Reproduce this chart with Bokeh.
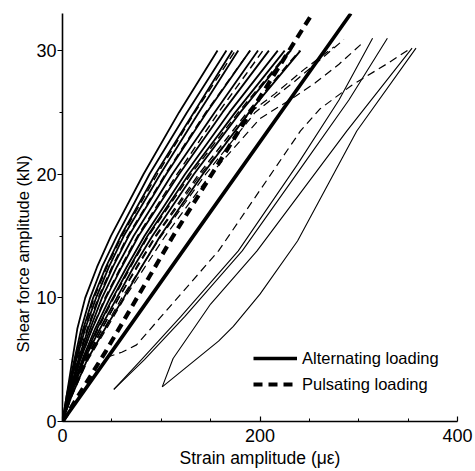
from bokeh.plotting import figure
from bokeh.models import FixedTicker, Legend, LegendItem, Range1d, Title
from bokeh.embed import file_html
from bokeh.resources import INLINE

# ---------------- data ----------------
Y_LEV = [0, 2, 5, 7.5, 10, 12.5, 15, 20, 25, 30]

# alternating loading, main bundle (strain at the Y_LEV force levels)
alt_b1 = [0, 4, 10, 15, 23, 35, 49, 82, 118, 157]
alt_b2 = [0, 4, 12, 19, 28, 40, 55, 88, 126, 166]
alt_b3 = [0, 5, 13, 21, 31, 44, 59, 94, 133, 172]
alt_b4 = [0, 5, 14, 23, 34, 47, 62, 99, 138, 178]
alt_b5 = [0, 6, 16, 26, 37, 51, 67, 105, 146, 190]
alt_b6 = [0, 6, 17, 28, 40, 55, 72, 111, 154, 198]
alt_b7 = [0, 7, 18, 30, 44, 60, 77, 118, 162, 209]
alt_b8 = [0, 7, 20, 33, 48, 65, 83, 124, 169, 218]
alt_b9 = [0, 7, 21, 35, 51, 68, 86, 128, 175, 225]
alt_b10 = [0, 8, 22, 38, 55, 72, 91, 133, 180, 231]
alt_b11 = [0, 9, 25, 43, 62, 80, 99, 142, 189, 241]

# alternating loading, specimens on the right
alt_r1_x = [52, 80, 120, 178, 238, 280, 314]
alt_r1_y = [2.6, 5.0, 8.5, 13.8, 20.8, 26.0, 31.0]
alt_r2_x = [52, 83, 124, 182, 244, 290, 329]
alt_r2_y = [2.6, 5.0, 8.5, 13.8, 20.8, 26.0, 31.0]
alt_r3_x = [101, 112, 150, 197, 288, 354]
alt_r3_y = [2.8, 5.1, 9.5, 13.8, 23.5, 30.2]
alt_r4_x = [101, 158, 173, 200, 238, 298, 358]
alt_r4_y = [2.8, 6.5, 7.7, 10.3, 14.6, 23.5, 30.2]

# pulsating loading, main bundle
pul_b1 = [0, 5, 13, 22, 32, 45, 60, 96, 134, 175]
pul_b2 = [0, 6, 15, 25, 36, 50, 66, 104, 145, 190]
pul_b3 = [0, 7, 18, 30, 43, 59, 76, 116, 158, 203]
pul_b4 = [0, 8, 22, 36, 52, 69, 87, 130, 178, 230]
pul_b5 = [0, 9, 24, 40, 57, 75, 94, 138, 187, 240]

# pulsating loading, flattening specimens
pul_f1_x = [0, 8, 23, 57, 95, 140, 190, 215, 245, 275]
pul_f1_y = [0, 2, 5, 10, 15, 20, 25, 26.5, 28.5, 30.3]
pul_f2_x = [0, 8, 24, 60, 100, 145, 195, 235, 260, 285]
pul_f2_y = [0, 2, 5, 10, 15, 20, 25, 27.5, 29.2, 30.9]
pul_f3_x = [0, 9, 26, 63, 104, 150, 200, 236, 256, 280, 305]
pul_f3_y = [0, 2, 5, 10, 15, 20, 24.5, 26.3, 27.4, 28.9, 30.7]
pul_f4_x = [0, 45, 60, 75, 158, 241, 261, 293, 330, 351]
pul_f4_y = [0, 5.2, 5.6, 6.2, 13.8, 23.5, 25.3, 27.2, 29.0, 30.1]

# mean lines (thick)
alt_mean_x = [0, 136, 292]
alt_mean_y = [0, 15.4, 33.0]
pul_mean_x = [0, 44, 112, 253]
pul_mean_y = [0, 5.7, 15.0, 33.0]

X_TICKS = [0, 200, 400]
X_MINOR = [50, 100, 150, 250, 300, 350]
Y_TICKS = [0, 10, 20, 30]
Y_MINOR = [5, 15, 25]

FONT = "Liberation Sans"

p = figure(width=475, height=471, x_range=Range1d(0, 400), y_range=Range1d(0, 33),
           output_backend="svg", toolbar_location=None,
           min_border_left=62, min_border_right=18, min_border_top=13, min_border_bottom=50)
p.outline_line_color = None
p.grid.visible = False
p.background_fill_color = "white"
p.border_fill_color = "white"

for xs in [alt_b1, alt_b2, alt_b3, alt_b4, alt_b5, alt_b6, alt_b7, alt_b8, alt_b9, alt_b10, alt_b11]:
    p.line(xs, Y_LEV, line_color="black", line_width=1.8)
for xs, ys in [(alt_r1_x, alt_r1_y), (alt_r2_x, alt_r2_y), (alt_r3_x, alt_r3_y), (alt_r4_x, alt_r4_y)]:
    p.line(xs, ys, line_color="black", line_width=1.1)
for xs in [pul_b1, pul_b2, pul_b3, pul_b4, pul_b5]:
    p.line(xs, Y_LEV, line_color="black", line_width=1.4, line_dash="8 5")
for xs, ys in [(pul_f1_x, pul_f1_y), (pul_f2_x, pul_f2_y), (pul_f3_x, pul_f3_y), (pul_f4_x, pul_f4_y)]:
    p.line(xs, ys, line_color="black", line_width=1.2, line_dash="8 5")

r_alt = p.line(alt_mean_x, alt_mean_y, line_color="black", line_width=3.6)
r_pul = p.line(pul_mean_x, pul_mean_y, line_color="black", line_width=4.2, line_dash="9 6")

leg = Legend(items=[LegendItem(label="Alternating loading", renderers=[r_alt]),
                    LegendItem(label="Pulsating loading", renderers=[r_pul])],
             location=(191, 27), glyph_width=44, glyph_height=20, label_height=20,
             spacing=6, padding=0, margin=0, label_standoff=5,
             border_line_alpha=0, background_fill_alpha=0,
             label_text_font=FONT, label_text_font_size="16.5px", label_text_color="black")
p.add_layout(leg)

# axes
xa = p.xaxis[0]
xa.ticker = FixedTicker(ticks=X_TICKS, minor_ticks=X_MINOR)
xa.axis_label = "Strain amplitude (\u03bc\u03b5)"
xa.major_tick_in = 5
xa.major_tick_out = 0
xa.minor_tick_in = 3
xa.minor_tick_out = 0
xa.major_label_standoff = 7
xa.axis_label_standoff = 3

ya = p.yaxis[0]
ya.ticker = FixedTicker(ticks=Y_TICKS, minor_ticks=Y_MINOR)
ya.major_tick_in = 0
ya.major_tick_out = 5
ya.minor_tick_in = 0
ya.minor_tick_out = 3
ya.major_label_standoff = 1

for ax in (xa, ya):
    ax.axis_line_color = "black"
    ax.axis_line_width = 1.6
    ax.major_tick_line_color = "black"
    ax.major_tick_line_width = 1.2
    ax.minor_tick_line_color = "black"
    ax.major_label_text_font = FONT
    ax.major_label_text_font_size = "18px"
    ax.major_label_text_color = "black"
    ax.axis_label_text_font = FONT
    ax.axis_label_text_font_size = "17.5px"
    ax.axis_label_text_font_style = "normal"
    ax.axis_label_text_color = "black"

# y axis title, placed lower than centre as in the reference
ytitle = Title(text="Shear force amplitude (kN)", align="left", offset=69,
               standoff=4, text_font=FONT, text_font_size="16.5px",
               text_font_style="normal", text_color="black")
p.add_layout(ytitle, "left")

open("out.html", "w").write(file_html(p, INLINE))
